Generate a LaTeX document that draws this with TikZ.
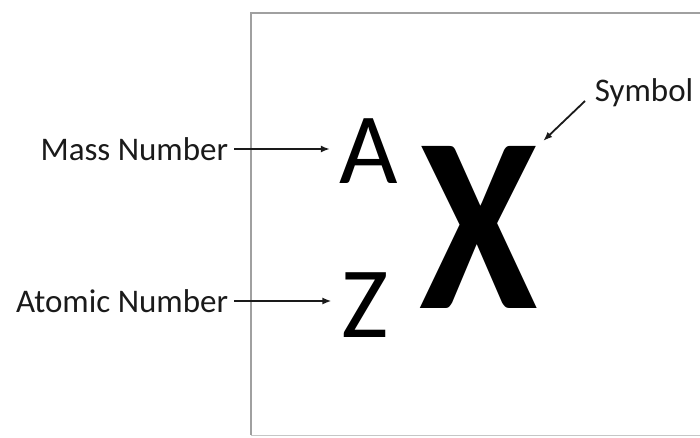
\documentclass[tikz,border=0pt]{standalone}
\usepackage{fontspec}
\setmainfont{Carlito}
\usepackage{xcolor}
\usepackage{tikz}
\usetikzlibrary{arrows.meta, positioning}
\definecolor{framegray}{HTML}{A0A0A0}
\definecolor{textblack}{HTML}{1A1A1A}

\begin{document}
\begin{tikzpicture}[x=1pt, y=-1pt, >={Latex[length=9pt,width=7pt]}, line width=1.8pt]
  \useasboundingbox (0,0) rectangle (700,437);
  \tikzset{
    label/.style={font=\fontsize{33}{36}\selectfont, text=textblack, inner sep=0pt},
    letter/.style={font=\fontsize{101}{110}\selectfont, inner sep=0pt, anchor=base},
    pointer/.style={->, draw=textblack}
  }
  % frame
  \draw[framegray, line width=2pt] (251,435) -- (251,13) -- (720,13);
  \draw[framegray!60, line width=1.5pt] (251,435.5) -- (720,435.5);

  % nuclide notation
  \node[letter] (A) at (369,183) {A};
  \node[letter] (Z) at (365,337) {Z};
  \node[font=\fontsize{250}{260}\selectfont\bfseries, inner sep=0pt, anchor=base,
        transform shape, xscale=0.86] (X) at (479,308) {X};

  % labels
  \node[label, anchor=east] (mass) at (229,149) {Mass Number};
  \node[label, anchor=east] (atomic) at (229,301) {Atomic Number};
  \node[label, anchor=west] (symbol) at (594,93) {Symbol};
  \coordinate (symtail) at (585,101);

  \draw[pointer, shorten <=5pt, shorten >=9pt] (mass.east) -- (mass.east -| A.west);
  \draw[pointer, shorten <=5pt, shorten >=9pt] (atomic.east) -- (atomic.east -| Z.west);
  \draw[pointer, shorten >=6pt] (symtail) -- (X.north east);
\end{tikzpicture}
\end{document}
